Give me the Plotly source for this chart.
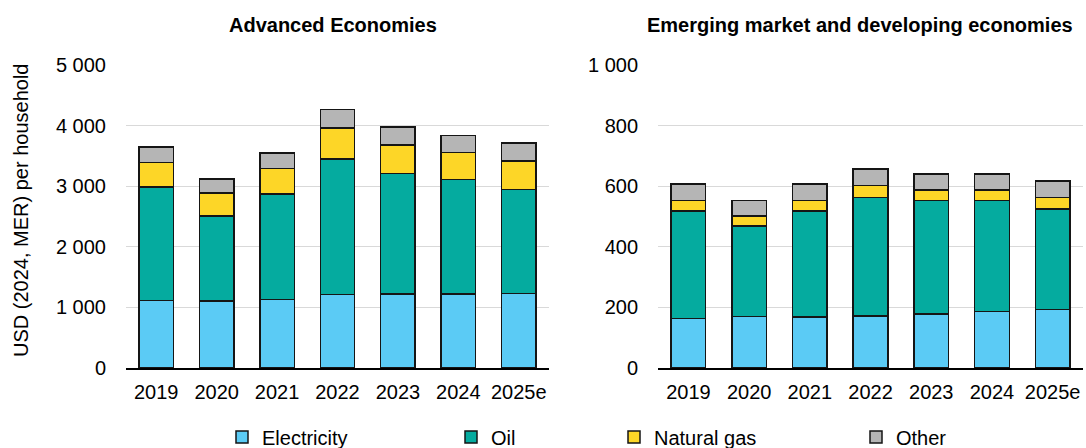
import plotly.graph_objects as go
from plotly.subplots import make_subplots

years = ["2019", "2020", "2021", "2022", "2023", "2024", "2025e"]

# Advanced economies (USD per household)
adv_electricity = [1112, 1106, 1128, 1211, 1221, 1221, 1233]
adv_oil = [1875, 1402, 1743, 2238, 1992, 1893, 1716]
adv_gas = [402, 380, 424, 511, 467, 440, 467]
adv_other = [258, 231, 253, 309, 297, 281, 297]

# Emerging market and developing economies
emde_electricity = [164, 170, 168, 171, 179, 187, 193]
emde_oil = [354, 299, 350, 392, 374, 366, 331]
emde_gas = [34, 33, 35, 40, 35, 35, 38]
emde_other = [56, 50, 55, 53, 52, 53, 55]

series_names = ["Electricity", "Oil", "Natural gas", "Other"]
colors = ["#5BCBF5", "#05AB9F", "#FDD627", "#B5B5B5"]

panel_titles = ["Advanced Economies", "Emerging market and developing economies"]
y_title = "USD (2024, MER) per household"

FONT = "Liberation Sans, Arial, sans-serif"
FS = 20

fig = make_subplots(rows=1, cols=2, horizontal_spacing=0.114)

adv = [adv_electricity, adv_oil, adv_gas, adv_other]
emde = [emde_electricity, emde_oil, emde_gas, emde_other]
legend_ids = ["legend", "legend2", "legend3", "legend4"]

for i, name in enumerate(series_names):
    fig.add_trace(go.Bar(x=years, y=adv[i], name=name,
                         marker=dict(color=colors[i], line=dict(color="#151515", width=1.5)),
                         legend=legend_ids[i], showlegend=True), row=1, col=1)
    fig.add_trace(go.Bar(x=years, y=emde[i], name=name,
                         marker=dict(color=colors[i], line=dict(color="#151515", width=1.5)),
                         showlegend=False), row=1, col=2)

fig.update_layout(
    barmode="stack",
    bargap=0.43,
    width=1086, height=448,
    margin=dict(l=126, r=3, t=65, b=80, autoexpand=False),
    plot_bgcolor="white", paper_bgcolor="white",
    font=dict(family=FONT, size=FS, color="#000000"),
    separators=". ",
)

fig.update_xaxes(domain=[0, 0.442], row=1, col=1)
fig.update_xaxes(domain=[0.556, 1.0], row=1, col=2)
fig.update_xaxes(showline=True, linecolor="#000000", linewidth=1.5, ticks="",
                 tickfont=dict(size=FS), showgrid=False, ticklabelstandoff=5)
fig.update_yaxes(showgrid=True, gridcolor="#D9D9D9", gridwidth=1, zeroline=False,
                 showline=False, tickformat=",d", tickfont=dict(size=FS), ticks="",
                 ticklabelstandoff=19)
fig.update_yaxes(range=[0, 5000], dtick=1000, row=1, col=1)
fig.update_yaxes(range=[0, 1000], dtick=200, row=1, col=2)

legend_text_px = [262, 491, 654, 896]
for lid, px in zip(legend_ids, legend_text_px):
    fig.update_layout({lid: dict(x=(px - 40 - 126) / 957, y=(368 - 437) / 303,
                                 xanchor="left", yanchor="middle",
                                 orientation="h", bgcolor="rgba(0,0,0,0)",
                                 font=dict(size=FS), itemwidth=30,
                                 tracegroupgap=0)})

fig.add_annotation(text="<b>" + panel_titles[0] + "</b>", xref="paper", yref="paper",
                   x=(333 - 126) / 957, y=(368 - 25) / 303, xanchor="center", yanchor="middle",
                   showarrow=False, font=dict(size=FS))
fig.add_annotation(text="<b>" + panel_titles[1] + "</b>", xref="paper", yref="paper",
                   x=(860 - 126) / 957, y=(368 - 25) / 303, xanchor="center", yanchor="middle",
                   showarrow=False, font=dict(size=FS))
fig.add_annotation(text=y_title, xref="paper", yref="paper", textangle=-90,
                   x=(21 - 126) / 957, y=(368 - 211) / 303, xanchor="center", yanchor="middle",
                   showarrow=False, font=dict(size=FS))

fig.write_html("out.html", config={"displayModeBar": False},
               post_script="document.body.style.margin='0';document.body.style.overflow='hidden';")
